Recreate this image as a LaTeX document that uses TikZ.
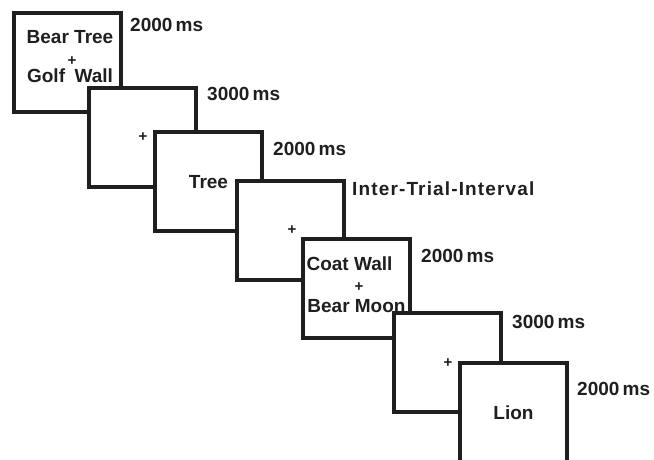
\documentclass[tikz,border=0pt]{standalone}
\usepackage{fontspec}
\setmainfont{Liberation Sans}
\definecolor{ink}{gray}{0.12}
\tikzset{
  every node/.style={
    text=ink, inner sep=0pt,
    font=\bfseries\fontsize{19}{22}\selectfont
  },
  screen/.style={draw=ink, line width=3.2pt, fill=white},
  fixation/.style={font=\bfseries\fontsize{15}{16}\selectfont}
}

\begin{document}
\begin{tikzpicture}[x=1pt,y=-1pt]
    \useasboundingbox (0,0) rectangle (654,460);
    \clip (0,0) rectangle (654,460);
    % top left corners of the screens
    \coordinate (S1) at (14,13);
    \coordinate (S2) at (89,88);
    \coordinate (S3) at (155,132);
    \coordinate (S4) at (237,181);
    \coordinate (S5) at (303,239);
    \coordinate (S6) at (394,313);
    \coordinate (S7) at (460,363);

    \draw[screen] (S1) rectangle +(107,99);
    \node[anchor=base] (bearTree) at (70,44) {Bear Tree};
    \node[fixation] (fix1) at (72,61) {+};
    \node[anchor=base] (golfWall) at (70,83) {Golf\enspace Wall};
    \node[anchor=base west] (time1) at (130,32) {2000\,ms};

    \draw[screen] (S2) rectangle +(107,99);
    \node[fixation] (fix2) at (143,137) {+};
    \node[anchor=base west] (time2) at (207,101) {3000\,ms};

    \draw[screen] (S3) rectangle +(107,99);
    \node[anchor=base] (tree) at (208.5,188) {Tree};
    \node[anchor=base west] (time3) at (273,155) {2000\,ms};

    \draw[screen] (S4) rectangle +(107,99);
    \node[fixation] (fix4) at (292,230) {+};
    \node[anchor=base west] (iti) at (352,195)
        {\addfontfeatures{LetterSpace=6}Inter-Trial-Interval};

    \draw[screen] (S5) rectangle +(107,99);
    \node[anchor=base] (coatWall) at (349.5,270) {Coat Wall};
    \node[fixation] (fix5) at (359,287) {+};
    \node[anchor=base] (bearMoon) at (356.5,312) {Bear Moon};
    \node[anchor=base west] (time5) at (421,262) {2000\,ms};

    \draw[screen] (S6) rectangle +(107,99);
    \node[fixation] (fix6) at (448,363) {+};
    \node[anchor=base west] (time6) at (512,328) {3000\,ms};

    \draw[screen] (S7) rectangle +(107,99);
    \node[anchor=base] (lion) at (513.5,419) {Lion};
    \node[anchor=base west] (time7) at (577,395) {2000\,ms};
\end{tikzpicture}
\end{document}
